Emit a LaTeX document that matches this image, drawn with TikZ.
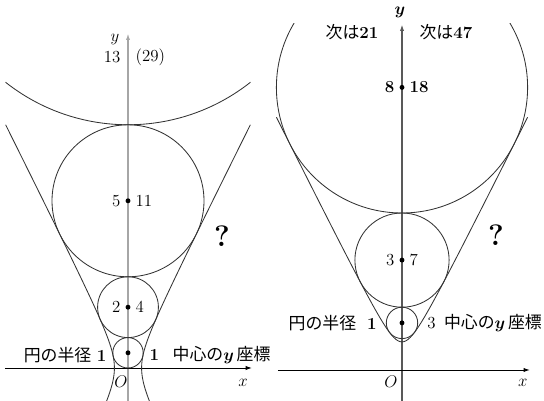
\documentclass[tikz,border=0pt]{standalone}
\usepackage{fontspec}
\usepackage{amsmath}
\usepackage{tikz}
\usetikzlibrary{arrows.meta}
\newfontfamily\jpfont{Noto Sans CJK JP}

\begin{document}
\begin{tikzpicture}[x=1cm,y=1cm,font=\fontsize{12}{14}\selectfont,
  curve/.style={draw=black!80,line width=.6pt},
  axis/.style={line width=.7pt,-{Latex[length=4.5pt,width=3pt]}},
  mid/.style={circle,fill=black,inner sep=0pt,minimum size=3.5pt},
  ask/.style={font=\fontsize{21}{24}\selectfont\bfseries}]
  \useasboundingbox (0,0) rectangle (13.6,10.025);
  \clip (0,0) rectangle (13.6,10.025);
  % left: x^2 - y^2/4 = 4/5
  \begin{scope}[shift={(3.2,.825)},x=.38cm,y=.38cm]
    \draw[axis,draw=black!35,line width=.9pt] (0,-2.3) -- (0,22);
    \draw[axis] (-8.1,0) -- (8.16,0);
    \draw[curve] plot[domain=-2.3:16,samples=80,smooth] ({sqrt(.8+(\x)*(\x)/4)},\x);
    \draw[curve] plot[domain=-2.3:16,samples=80,smooth] ({-sqrt(.8+(\x)*(\x)/4)},\x);
    \draw[curve] (0,1) circle[radius=1];
    \draw[curve] (0,4) circle[radius=2];
    \draw[curve] (0,11) circle[radius=5];
    \draw[curve] (0,29) ++(-128.3:13) arc[start angle=-128.3,end angle=-51.7,radius=13];
    \node[mid] (lc1) at (0,1) {};
    \node[mid,label=left:2,label=right:4] (lc2) at (0,4) {};
    \node[mid,label=left:5,label=right:11] (lc3) at (0,11) {};
    \node[mid,fill=none,label=left:13,label={right:(29)}] (lc4) at (0,20.46) {};
    \node[anchor=east] (lr) at (-1.1,.85) {{\jpfont 円の半径}\ \textbf{1}};
    \node[anchor=west] (ly) at (1.1,.85) {\textbf{1}\hspace{.8em}{\jpfont 中心の}$\boldsymbol{y}$\,{\jpfont 座標}};
    \node (lylab) at (-.86,21.6) {$y$};
    \node (lxlab) at (7.57,-.99) {$x$};
    \node (lo) at (-.46,-.92) {$O$};
    \node[ask] (lq) at (6.18,8.68) {?};
  \end{scope}
  % right: y^2 - 4x^2 = 16/5
  \begin{scope}[shift={(10.05,.775)},x=.3925cm,y=.3925cm]
    \draw[axis,draw=black!65,line width=.8pt] (0,-2.1) -- (0,22);
    \draw[axis] (-7.9,0) -- (8.15,0);
    \begin{scope}
      \clip (-9,-3) rectangle (9,22.1);
      \draw[curve] plot[domain=-8:8,samples=121,smooth] (\x,{sqrt(3.2+4*(\x)*(\x))});
      \draw[curve] (0,3) circle[radius=1];
      \draw[curve] (0,7) circle[radius=3];
      \draw[curve] (0,18) circle[radius=8];
    \end{scope}
    \node[mid] (rc1) at (0,3) {};
    \node[mid,label=left:3,label=right:7] (rc2) at (0,7) {};
    \node[mid,label=left:\textbf{8},label=right:\textbf{18}] (rc3) at (0,18) {};
    \node[anchor=east] (rr) at (-1.3,3) {{\jpfont 円の半径}\ \ \textbf{1}};
    \node[anchor=west] (ry) at (1.3,3) {3\hspace{.5em}{\jpfont 中心の}$\boldsymbol{y}$\,{\jpfont 座標}};
    \node (rn1) at (-3.18,21.5) {{\jpfont 次は}\textbf{21}};
    \node (rn2) at (2.8,21.5) {{\jpfont 次は}\textbf{47}};
    \node (rylab) at (-.13,22.75) {$\boldsymbol{y}$};
    \node (rxlab) at (7.7,-.83) {$x$};
    \node (ro) at (-.7,-.76) {$O$};
    \node[ask] (rq) at (5.99,8.6) {?};
  \end{scope}
\end{tikzpicture}
\end{document}
